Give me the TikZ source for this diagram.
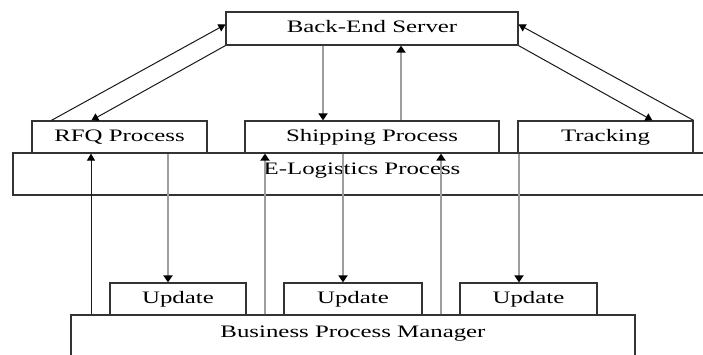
\documentclass[tikz,border=0pt]{standalone}
\usepackage{fontspec}
\setmainfont[FakeStretch=1.42]{Liberation Serif}
\usetikzlibrary{arrows.meta}
\begin{document}
\begin{tikzpicture}[x=1pt,y=-1pt,
  box/.style={draw=black!80,line width=1.2pt,rectangle,inner sep=0pt,fill=white,
    font=\fontsize{17.5}{20}\selectfont,text height=12pt,text depth=3pt},
  blk/.style={draw=black!90,line width=1pt,-{Triangle[length=7pt,width=8pt,color=black]}},
  gry/.style={draw=black!38,line width=2.5pt,-{Triangle[length=7pt,width=9pt,color=black]}}]
\useasboundingbox (0,0) rectangle (703,355);
\clip (0,0) rectangle (703,355);
\fill[white] (0,0) rectangle (703,355);
% boxes
\node[box,minimum width=292pt,minimum height=33pt] (be) at (372,28.5) {Back-End Server};
\node[box,minimum width=698pt,minimum height=42pt,text height=12pt,text depth=10pt] (elog) at (362,174) {E-Logistics Process};
\node[box,minimum width=175pt,minimum height=32pt] (rfq) at (119.5,137) {RFQ Process};
\node[box,minimum width=254pt,minimum height=32pt] (ship) at (372,137) {Shipping Process};
\node[box,minimum width=175pt,minimum height=32pt] (track) at (605.5,137) {Tracking};
\node[box,minimum width=564pt,minimum height=60pt,text height=12pt,text depth=26.6pt] (bpm) at (353,345) {Business Process Manager};
\node[box,minimum width=136pt,minimum height=32pt] (upd1) at (178,299) {Update};
\node[box,minimum width=138pt,minimum height=32pt] (upd2) at (353,299) {Update};
\node[box,minimum width=137pt,minimum height=32pt] (upd3) at (528.5,299) {Update};
% connectors top
\draw[blk] ([xshift=20pt]rfq.north west) -- ([yshift=4pt]be.west);
\draw[blk] (be.south west) -- ([xshift=60pt]rfq.north west);
\draw[gry] ([xshift=-49pt]be.south) -- ([xshift=-49pt]ship.north);
\draw[gry] ([xshift=29pt]ship.north) -- ([xshift=29pt]be.south);
\draw[blk] (be.south east) -- ([xshift=135pt]track.north west);
\draw[blk] (track.north east) -- ([yshift=4pt]be.east);
% connectors bottom
\draw[blk] ([xshift=-262pt]bpm.north) -- ([xshift=-28.5pt]rfq.south);
\draw[gry] ([xshift=48.5pt]rfq.south) -- ([xshift=-10pt]upd1.north);
\draw[gry] ([xshift=-88pt]bpm.north) -- ([xshift=-107pt]ship.south);
\draw[gry] ([xshift=-29pt]ship.south) -- ([xshift=-10pt]upd2.north);
\draw[gry] ([xshift=88pt]bpm.north) -- ([xshift=69pt]ship.south);
\draw[gry] ([xshift=-86.5pt]track.south) -- ([xshift=-9.5pt]upd3.north);
\end{tikzpicture}
\end{document}
